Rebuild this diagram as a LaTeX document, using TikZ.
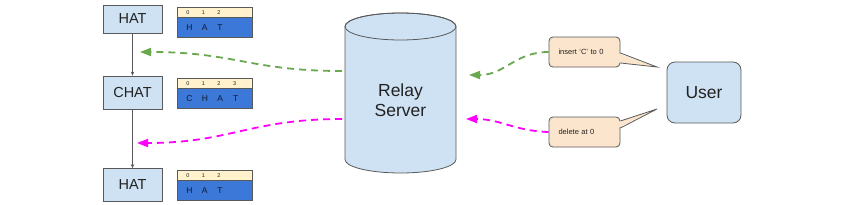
\documentclass[tikz,border=0pt]{standalone}
\usepackage{fontspec}
\setmainfont{Liberation Sans}
\usetikzlibrary{arrows.meta,calc}
\definecolor{boxfill}{HTML}{CFE2F3}
\definecolor{bordergray}{HTML}{595959}
\definecolor{textdark}{HTML}{222222}
\definecolor{idxyellow}{HTML}{FFF2CC}
\definecolor{valblue}{HTML}{3C78D8}
\definecolor{valtext}{HTML}{0E1A33}
\definecolor{calloutfill}{HTML}{FCE5CD}
\definecolor{flowgreen}{HTML}{6AA84F}
\definecolor{flowmagenta}{HTML}{FF00FF}
\newcommand\cellch[1]{\makebox[15.6pt][l]{#1}}
\begin{document}
\begin{tikzpicture}[x=1pt,y=-1pt,
  box/.style={draw=bordergray, fill=boxfill, line width=0.8pt, inner sep=0pt,
    minimum width=59pt, text=textdark, font=\fontsize{14.5}{16}\selectfont},
  idx/.style={draw=bordergray, fill=idxyellow, line width=0.6pt, anchor=north west,
    minimum width=75pt, minimum height=10pt, inner xsep=9pt, inner ysep=0pt,
    text width=57pt, align=left, text=textdark, font=\fontsize{5.5}{5.5}\selectfont},
  val/.style={draw=bordergray, fill=valblue, line width=0.6pt, anchor=north west,
    minimum width=75pt, minimum height=20pt, inner xsep=9pt, inner ysep=0pt,
    text width=57pt, align=left, text=valtext, font=\fontsize{8.5}{8.5}\selectfont},
  callout/.style={draw=bordergray, fill=calloutfill, line width=0.8pt, rounded corners=4pt,
    minimum width=71pt, minimum height=30pt, inner xsep=9.5pt, inner ysep=0pt,
    text width=52pt, align=left, text=textdark, font=\fontsize{7.5}{8}\selectfont},
  hist/.style={draw=bordergray, line width=0.8pt, -{Stealth[length=4pt,width=3.5pt]}},
  flow/.style={dash pattern=on 7pt off 5pt, line width=1.8pt,
    -{Triangle[length=11pt,width=8pt]}},
  spike/.style={draw=bordergray, line width=0.8pt}
]
\path[use as bounding box] (0,0) rectangle (844,204);

% history column
\node[box, minimum height=28pt] (hat1) at (132.5,19) {HAT};
\node[box, minimum height=33pt] (chat) at (132.5,92.5) {CHAT};
\node[box, minimum height=33pt] (hat2) at (132.5,185) {HAT};
\draw[hist] (hat1.south) -- (chat.north);
\draw[hist] (chat.south) -- (hat2.north);

% arrays
\node[idx] (a1i) at (177,7) {\cellch{0}\cellch{1}\cellch{2}};
\node[val] (a1v) at (177,17) {\cellch{H}\cellch{A}\cellch{T}};
\node[idx] (a2i) at (177,78) {\cellch{0}\cellch{1}\cellch{2}\cellch{3}};
\node[val] (a2v) at (177,88) {\cellch{C}\cellch{H}\cellch{A}\cellch{T}};
\node[idx] (a3i) at (177,170) {\cellch{0}\cellch{1}\cellch{2}};
\node[val] (a3v) at (177,180) {\cellch{H}\cellch{A}\cellch{T}};

% relay server cylinder
\filldraw[fill=boxfill, draw=bordergray, line width=0.8pt]
  (345,26.5) -- (345,159.5)
  arc[start angle=180, end angle=360, x radius=55.5pt, y radius=13.5pt]
  -- (456,26.5)
  arc[start angle=0, end angle=180, x radius=55.5pt, y radius=13.5pt] -- cycle;
\draw[bordergray, line width=0.8pt] (400.5,26.5) ellipse[x radius=55.5pt, y radius=13.5pt];
\node[align=center, text=textdark, font=\fontsize{17.5}{20}\selectfont] (relay) at (400.5,100) {Relay\\Server};

% user and callouts
\node[box, rounded corners=8pt, minimum width=74pt, minimum height=61pt,
  font=\fontsize{17.5}{20}\selectfont] (user) at (704,92.5) {User};
\node[callout] (c1) at (584.5,52) {insert `C' to 0};
\node[callout] (c2) at (584.5,132) {delete at 0};

\coordinate (c1tip) at (657,67);
\coordinate (c2tip) at (657,109);
\fill[calloutfill] ($(c1.east)+(-1.4,1.6)$) -- (c1tip) -- ($(c1.east)+(-1.4,10.4)$) -- cycle;
\draw[spike] ($(c1.east)+(0,1)$) -- (c1tip) -- ($(c1.east)+(0,11)$);
\fill[calloutfill] ($(c2.east)+(-1.4,-10.4)$) -- (c2tip) -- ($(c2.east)+(-1.4,-4.6)$) -- cycle;
\draw[spike] ($(c2.east)+(0,-11)$) -- (c2tip) -- ($(c2.east)+(0,-4)$);

% flows
\coordinate (gsrc) at (342,71);
\coordinate (msrc) at (342,119);
\coordinate (gtipL) at (140,52);
\coordinate (mtipL) at (137,143);
\coordinate (gtipR) at (469,75);
\coordinate (mtipR) at (466,119);
\draw[flow, flowgreen] (gsrc) .. controls (250,71) and (235,52) .. (gtipL);
\draw[flow, flowmagenta] (msrc) .. controls (250,119) and (230,143) .. (mtipL);
\draw[flow, flowgreen] (c1.west) .. controls (515,52) and (505,75) .. (gtipR);
\draw[flow, flowmagenta] (c2.west) .. controls (515,131) and (500,119) .. (mtipR);
\end{tikzpicture}
\end{document}
